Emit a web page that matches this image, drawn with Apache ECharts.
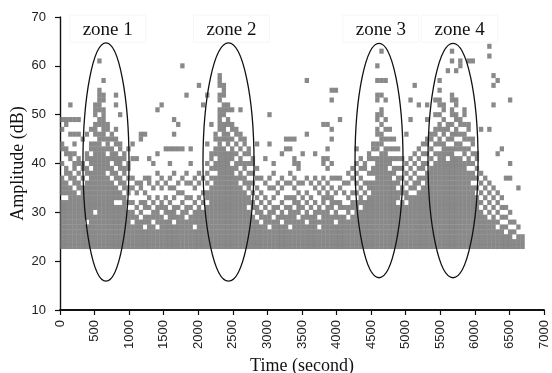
<!DOCTYPE html>
<html><head><meta charset="utf-8">
<script src="https://cdn.jsdelivr.net/npm/echarts@6/dist/echarts.min.js"></script>
<style>html,body{margin:0;padding:0;background:#fff}#c{width:552px;height:373px}</style>
</head><body><div id="c"></div>
<script>
// Sample times (s) of the recorded columns
const colTimes = [30,90,150,210,270,330,390,450,510,570,
 630,690,750,810,870,930,990,1050,1110,1170,
 1230,1290,1350,1410,1470,1530,1590,1650,1710,1770,
 1830,1890,1950,2010,2070,2130,2190,2250,2310,2370,
 2430,2490,2550,2610,2670,2730,2790,2850,2910,2970,
 3030,3090,3150,3210,3270,3330,3390,3450,3510,3570,
 3630,3690,3750,3810,3870,3930,3990,4050,4110,4170,
 4230,4290,4350,4410,4470,4530,4590,4650,4710,4770,
 4830,4890,4950,5010,5070,5130,5190,5250,5310,5370,
 5430,5490,5550,5610,5670,5730,5790,5850,5910,5970,
 6030,6090,6150,6210,6270,6330,6390,6450,6510,6570,
 6630,6690];
// lowest recorded amplitude (dB)
const baseDb = 23;
// highest amplitude (dB) of the connected hit mass in each column
const solidTop = [44,43,42,44,41,40,42,44,52,55,
 54,48,46,45,44,42,40,37,36,36,
 37,37,35,38,37,36,37,38,36,37,
 38,36,37,38,37,40,42,46,58,56,
 52,48,47,46,45,43,41,39,37,36,
 37,38,36,37,36,38,41,40,36,37,
 36,37,36,41,41,40,37,37,36,38,
 39,40,41,40,42,44,50,51,49,47,
 45,43,41,40,41,42,43,44,45,46,
 47,53,52,48,54,53,49,51,48,45,
 42,38,37,36,35,34,33,31,30,28,
 27,25];
// amplitudes (dB) with no hit inside each column's mass
const gapRows = [[42,41,39,38,33],[41,40,37,33],[40,39,36],[43,41,38,35],[39,37,34],[38,36],[40,37,28],[42,39],[49,45,30],[50,47],
 [52,44],[46,42,38],[44,40,37],[43,39,36,32],[42,38,35,32],[40,37,34],[38,36,33,31],[36,34,33,31,28],[35,33,32,30],[34,33,31,29],
 [36,35,33,30,27],[35,34,32,30],[34,33,31,28],[37,35,34,32,27],[36,34,33,30],[35,34,32,29],[36,34,33,31],[37,36,34,32,28],[35,33,32,30],[36,35,33,31],
 [37,35,34,32,29],[35,34,32,30],[36,34,33,31,27],[37,35,34,32],[36,35,33,31],[39,37,35,32],[40,38,36],[44,41,38],[55,52,46],[53,49,44],
 [50,47,43],[46,44,40],[45,43,41,38],[44,42,39,36],[43,41,38,35],[41,39,37,34,31],[39,37,35,33,30],[38,36,34,32,29],[36,35,33,31,28],[35,34,32,30],
 [36,34,33,31,27],[37,36,34,32,29],[35,33,32,30],[36,34,33,31,28],[35,34,32,30],[37,35,34,32,27],[39,38,36,34,31],[38,37,35,33,29],[35,34,32,30],[36,35,33,31,28],
 [35,34,32,30],[36,34,33,31],[35,33,32,29,27],[39,38,36,34,31],[40,38,37,35,32],[39,38,36,34,30],[36,35,33,31,28],[36,34,33,30],[35,33,32,30],[37,35,34,32,29],
 [38,36,35,33,30],[39,37,35,33],[40,38,36,34,31],[38,37,35,33],[40,39,37,34],[42,40,37],[48,45,42],[49,47,43],[48,46,44],[46,44,42,39],
 [44,42,40,37],[42,40,38,35,32],[40,38,36,33],[39,37,35,32],[40,38,36,34],[41,39,37,34],[42,40,38,35],[43,41,38,36],[43,41,39],[44,42,40],
 [45,43,41],[51,49,46,43],[50,48,45],[46,44,41],[52,49,47,44],[51,48,45,42],[47,45,42],[49,47,44,41],[46,44,42,39],[43,41,39,36],
 [40,38,36,34],[37,35,33,31],[36,34,32,30],[35,33,31,29],[34,32,30],[33,31,29,27],[32,30,28],[30,28,26],[29,27],[27,25],
 [26],[]];
// isolated hits above the mass [time s, amplitude dB]
const extraPoints = [[30,49],[30,47],[90,49],[90,48],[150,52],[150,49],[150,46],[210,49],[210,46],[270,49],[270,46],
 [330,45],[390,46],[450,47],[570,61],[630,57],[810,54],[810,52],[810,47],[870,50],[990,43],[1050,44],[1050,41],
 [1110,41],[1170,46],[1170,45],[1230,46],[1290,41],[1350,40],[1410,51],[1410,42],[1470,52],[1530,43],[1590,43],[1590,40],
 [1650,49],[1650,46],[1650,43],[1710,48],[1710,43],[1770,60],[1770,43],[1830,54],[1890,43],[1890,40],[2010,56],[2070,52],
 [2130,54],[2130,44],[2190,48],[2490,51],[2610,51],[2850,44],[2970,41],[3030,50],[3030,44],[3090,40],[3210,42],
 [3270,45],[3270,43],[3330,45],[3330,43],[3390,45],[3510,42],[3570,57],[3570,46],[3690,42],[3810,48],[3870,48],[3870,43],
 [3930,55],[3930,53],[3930,47],[3930,45],[3990,55],[4050,49],[4290,43],[4590,60],[4590,57],[4590,54],[4590,53],
 [4650,63],[4650,57],[4650,54],[4710,57],[4710,53],[5010,46],[5070,53],[5070,49],[5130,56],[5190,52],[5310,52],[5310,49],
 [5430,53],[5430,50],[5490,57],[5490,55],[5610,59],[5670,63],[5670,61],[5730,59],[5790,61],[5790,60],[5910,61],[5970,61],
 [6090,47],[6210,64],[6210,62],[6210,47],[6270,58],[6270,56],[6270,52],[6330,57],[6330,42],[6390,43],[6450,37],
 [6510,53],[6510,40],[6510,37],[6630,35]];
// zone annotations
const zoneNames = ['zone 1','zone 2','zone 3','zone 4'];
const zoneCenterTime = [665, 2437, 4614, 5684];
const zoneCenterDb = [40.3, 40.3, 40.6, 40.6];
const zoneHalfTime = [333, 369, 347, 362];
const zoneHalfDb = [24.4, 24.4, 24.0, 24.0];
const zoneLabelTime = [690, 2480, 4640, 5780];
const zoneLabelDb = 67.3;

const xTicks = {min:0, max:7000, step:500};
const yTicks = {min:10, max:70, step:10};

const points = [];
for (let i = 0; i < colTimes.length; i++) {
  for (let db = baseDb; db <= solidTop[i]; db++) {
    if (gapRows[i].indexOf(db) < 0) points.push([colTimes[i], db]);
  }
}
extraPoints.forEach(p => points.push(p));

const grid = {left:60, right:8, top:17, bottom:63, containLabel:false, outerBoundsMode:'none'};
const gw = 552 - grid.left - grid.right, gh = 373 - grid.top - grid.bottom;
const cellW = gw * 60 / (xTicks.max - xTicks.min);
const cellH = gh / (yTicks.max - yTicks.min);

const chart = echarts.init(document.getElementById('c'), null, {renderer:'canvas'});
chart.setOption({
  animation:false,
  grid: grid,
  xAxis: {type:'value', min:xTicks.min, max:xTicks.max, interval:xTicks.step,
    name:'Time (second)', nameLocation:'middle', nameGap:47, nameMoveOverlap:false,
    nameTextStyle:{fontFamily:'Liberation Serif', fontSize:18, color:'#111'},
    axisLine:{lineStyle:{color:'#111', width:1.8}},
    axisTick:{length:5, lineStyle:{color:'#111', width:1.2}},
    splitLine:{show:false},
    axisLabel:{rotate:90, margin:10, fontFamily:'Liberation Sans', fontSize:13, color:'#222',
      formatter: v => String(v)}},
  yAxis: {type:'value', min:yTicks.min, max:yTicks.max, interval:yTicks.step,
    name:'Amplitude (dB)', nameLocation:'middle', nameGap:33, nameMoveOverlap:false,
    nameTextStyle:{fontFamily:'Liberation Serif', fontSize:18, color:'#111'},
    axisLine:{show:true, lineStyle:{color:'#111', width:1.4}},
    axisTick:{show:true, length:5, lineStyle:{color:'#111', width:1.2}},
    splitLine:{show:false},
    axisLabel:{margin:14, fontFamily:'Liberation Sans', fontSize:13, color:'#222',
      formatter: v => String(v)}},
  series: [{type:'scatter', data:points, symbol:'rect',
    symbolSize:[cellW + 0.2, cellH + 0.15],
    itemStyle:{color:'#6b6b6b'}, silent:true, large:false}]
});

const gfx = [];
for (let k = 0; k < zoneNames.length; k++) {
  const c = chart.convertToPixel({gridIndex:0}, [zoneCenterTime[k], zoneCenterDb[k]]);
  const r = chart.convertToPixel({gridIndex:0}, [zoneCenterTime[k] + zoneHalfTime[k], zoneCenterDb[k] + zoneHalfDb[k]]);
  gfx.push({type:'ellipse', shape:{cx:c[0], cy:c[1], rx:r[0]-c[0], ry:c[1]-r[1]},
    style:{fill:null, stroke:'#111', lineWidth:1.3}, z:100});
  const l = chart.convertToPixel({gridIndex:0}, [zoneLabelTime[k], zoneLabelDb]);
  gfx.push({type:'rect', shape:{x:l[0]-38, y:l[1]-15, width:76, height:27},
    style:{fill:null, stroke:'#f6f6f6', lineWidth:1}, z:99});
  gfx.push({type:'text', x:l[0], y:l[1], style:{text:zoneNames[k], fill:'#111',
    font:'19px "Liberation Serif"', textAlign:'center', textVerticalAlign:'middle', verticalAlign:'middle'}, z:101});
}
chart.setOption({graphic:gfx});
</script></body></html>
